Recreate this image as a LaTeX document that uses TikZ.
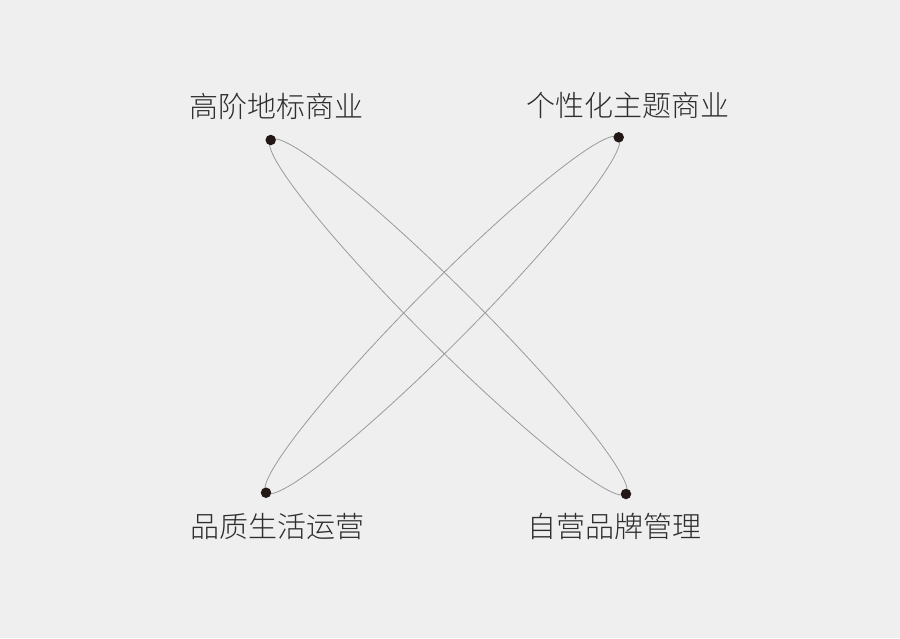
\documentclass[tikz,border=0pt]{standalone}
\usepackage{fontspec}
\newfontfamily\cjk{Noto Sans CJK SC Light}
\usetikzlibrary{positioning, calc, shapes.geometric, backgrounds}
\definecolor{paper}{HTML}{EFEFEF}
\definecolor{ink}{HTML}{231815}
\definecolor{wire}{HTML}{9A9A9A}
\definecolor{txt}{HTML}{2E2E2E}
\tikzset{
	dot/.style={circle, fill=ink, inner sep=0pt, minimum size=10.5pt},
	tag/.style={font=\cjk\fontsize{29}{29}\selectfont, text=txt, inner sep=0pt},
	lens/.style={ellipse, draw=wire, line width=0.8pt, inner sep=0pt, minimum height=58pt}
}
\begin{document}
\begin{tikzpicture}[x=1pt, y=-1pt, node distance=15pt]
		\useasboundingbox (0,0) rectangle (900,638);
		\node[dot] (tl) at (270.7,140) {};
		\node[dot] (tr) at (618.7,137.3) {};
		\node[dot] (bl) at (266,492.7) {};
		\node[dot] (br) at (626,494) {};
		
		\node[tag, above=of tl, xshift=6pt] (tl-label) {高阶地标商业};
		\node[tag, above=of tr, xshift=9pt, yshift=-2.5pt] (tr-label) {个性化主题商业};
		\node[tag, below=of bl, xshift=11pt] (bl-label) {品质生活运营};
		\node[tag, below=of br, xshift=-12pt, yshift=1pt] (br-label) {自营品牌管理};
		
		\begin{pgfonlayer}{background}
			\fill[paper] (0,0) rectangle (900,638);
			\path let \p1=($(br)-(tl)$), \n1={atan2(\y1,\x1)}, \n2={veclen(\x1,\y1)} in
				node[lens, minimum width=\n2, rotate=\n1] (tl-br) at ($(tl)!0.5!(br)$) {};
			\path let \p1=($(bl)-(tr)$), \n1={atan2(\y1,\x1)}, \n2={veclen(\x1,\y1)} in
				node[lens, minimum width=\n2, rotate=\n1] (tr-bl) at ($(tr)!0.5!(bl)$) {};
		\end{pgfonlayer}
	\end{tikzpicture}
\end{document}
